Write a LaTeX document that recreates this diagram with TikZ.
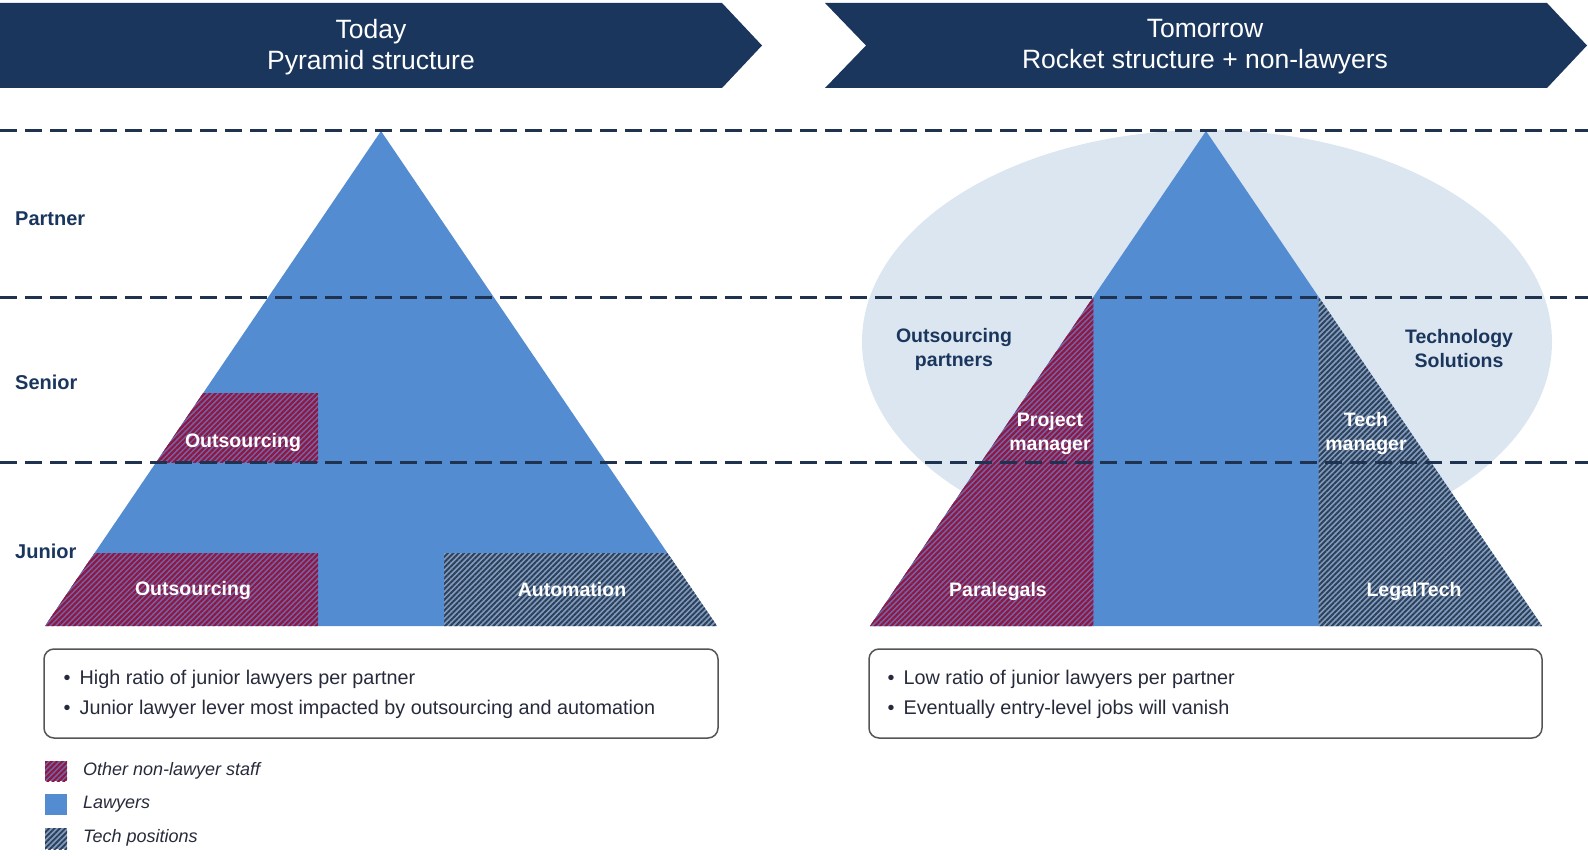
\documentclass[tikz,border=0pt]{standalone}
\usepackage{fontspec}
\setmainfont{Liberation Sans}
\usepackage{tikz}
\usetikzlibrary{patterns.meta}
\definecolor{navy}{RGB}{27,54,93}
\definecolor{dashnavy}{RGB}{31,50,80}
\definecolor{lawblue}{RGB}{84,140,210}
\definecolor{cloud}{RGB}{220,230,240}
\definecolor{redbg}{RGB}{112,100,170}
\definecolor{redln}{RGB}{145,22,62}
\definecolor{techbg}{RGB}{128,156,192}
\definecolor{techln}{RGB}{46,64,88}
\definecolor{boxline}{RGB}{85,85,85}
\definecolor{inktext}{RGB}{38,42,58}

\begin{document}
\begin{tikzpicture}[x=1pt,y=-1pt]
\tikzstyle{every node}+=[inner sep=0pt]
\tikzstyle{othstaff}=[fill=redbg, postaction={pattern color=redln, pattern={Lines[angle=45,distance=3.8pt,line width=2.1pt]}}]
\tikzstyle{techpos}=[fill=techbg, postaction={pattern color=techln, pattern={Lines[angle=45,distance=3.8pt,line width=1.9pt]}}]
\tikzstyle{tierline}=[dashnavy, line width=3pt, dash pattern=on 17pt off 8pt]
\tikzstyle{headtext}=[text=white, align=center, font=\fontsize{26.5}{31}\selectfont]
\tikzstyle{rowlabel}=[anchor=west, text=navy, font=\fontsize{20}{24}\selectfont\bfseries]
\tikzstyle{onhatch}=[text=white, align=center, font=\fontsize{19.5}{24}\selectfont\bfseries]
\tikzstyle{oncloud}=[text=navy, align=center, font=\fontsize{19.5}{24}\selectfont\bfseries]
\tikzstyle{pointtext}=[anchor=west, text=inktext, font=\fontsize{19.8}{23}\selectfont]
\tikzstyle{legtext}=[anchor=west, text=inktext, font=\fontsize{18}{22}\selectfont\itshape]
\tikzstyle{notebox}=[draw=boxline, line width=1.5pt, rounded corners=10pt]
\useasboundingbox (0,0) rectangle (1588,856);
\fill[navy] (0,3) -- (722,3) -- (762,45.5) -- (722,88) -- (0,88) -- cycle;
\fill[navy] (825,3) -- (1547,3) -- (1587,45.5) -- (1547,88) -- (825,88) -- (866,45.5) -- cycle;
\node[headtext] (today) at (371,47) {Today\\Pyramid structure};
\node[headtext] (tomorrow) at (1205,47) {Tomorrow\\Rocket structure + non-lawyers};
\fill[cloud] (1207,342) ellipse [x radius=345, y radius=212];
\fill[lawblue] (381,131) -- (717,626) -- (45,626) -- cycle;
\begin{scope}
\clip (381,131) -- (717,626) -- (45,626) -- cycle;
\fill[othstaff] (150,393) rectangle (318,462);
\fill[othstaff] (30,553) rectangle (318,626);
\fill[techpos] (444,553) rectangle (730,626);
\end{scope}
\fill[lawblue] (1206,131) -- (1542,626) -- (870,626) -- cycle;
\fill[othstaff] (1093.3,297) -- (1093.3,626) -- (870,626) -- cycle;
\fill[techpos] (1318.7,297) -- (1542,626) -- (1318.7,626) -- cycle;
\foreach \yy in {131,297,462}
  \draw[tierline] (0,\yy) -- (1588,\yy);
\node[rowlabel] (partner) at (15,219) {Partner};
\node[rowlabel] (senior) at (15,382) {Senior};
\node[rowlabel] (junior) at (15,551) {Junior};
\node[onhatch] (outA) at (243,442) {Outsourcing};
\node[onhatch] (outB) at (193,590) {Outsourcing};
\node[onhatch] (autom) at (572,590) {Automation};
\node[oncloud] (outpart) at (954,349) {Outsourcing\\partners};
\node[oncloud] (techsol) at (1459,349) {Technology\\Solutions};
\node[onhatch] (projman) at (1050,433) {Project\\manager};
\node[onhatch] (techman) at (1366,433) {Tech\\manager};
\node[onhatch] (paraleg) at (998,591) {Paralegals};
\node[onhatch] (legaltech) at (1414,591) {LegalTech};
\draw[notebox] (44,649) rectangle (718,738);
\draw[notebox] (869,649) rectangle (1542,738);
\node[pointtext] (ptA) at (63.5,679) {\textbullet\hspace{9pt}High ratio of junior lawyers per partner};
\node[pointtext] (ptB) at (63.5,709) {\textbullet\hspace{9pt}Junior lawyer lever most impacted by outsourcing and automation};
\node[pointtext] (ptC) at (887.5,679) {\textbullet\hspace{9pt}Low ratio of junior lawyers per partner};
\node[pointtext] (ptD) at (887.5,709) {\textbullet\hspace{9pt}Eventually entry-level jobs will vanish};
\fill[othstaff] (45,761) rectangle (67,781);
\fill[lawblue] (45,794) rectangle (67,815);
\fill[techpos] (45,828) rectangle (67,849);
\node[legtext] (legA) at (83,771) {Other non-lawyer staff};
\node[legtext] (legB) at (83,804) {Lawyers};
\node[legtext] (legC) at (83,838) {Tech positions};
\end{tikzpicture}
\end{document}
